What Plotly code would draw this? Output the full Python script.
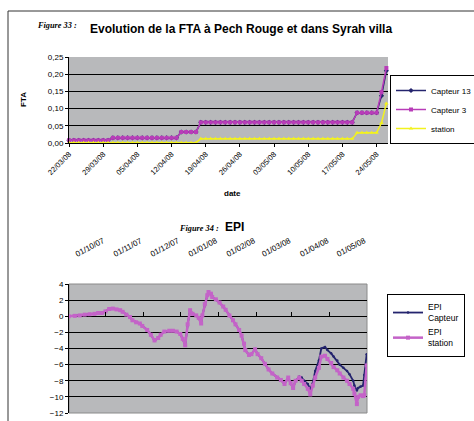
import pandas as pd
import plotly.graph_objects as go

# --- Figure 33 : FTA (daily values, 22/03/08 -> 26/05/08) ---
fta_dates = pd.date_range("2008-03-22", "2008-05-26", freq="D")

capteur_13 = [
    0.008, 0.008, 0.008, 0.008, 0.008, 0.008, 0.008, 0.008, 0.008,
    0.015, 0.015, 0.015, 0.015, 0.015, 0.015, 0.015, 0.015, 0.015, 0.015, 0.015, 0.015, 0.015, 0.015,
    0.032, 0.032, 0.032, 0.032,
    0.06, 0.06, 0.06, 0.06, 0.06, 0.06, 0.06, 0.06, 0.06, 0.06, 0.06, 0.06, 0.06, 0.06, 0.06, 0.06,
    0.06, 0.06, 0.06, 0.06, 0.06, 0.06, 0.06, 0.06, 0.06, 0.06, 0.06, 0.06, 0.06, 0.06, 0.06, 0.06,
    0.088, 0.088, 0.088, 0.088, 0.088,
    0.137, 0.21,
]
capteur_3 = [
    0.008, 0.008, 0.008, 0.008, 0.008, 0.008, 0.008, 0.008, 0.008,
    0.015, 0.015, 0.015, 0.015, 0.015, 0.015, 0.015, 0.015, 0.015, 0.015, 0.015, 0.015, 0.015, 0.015,
    0.032, 0.032, 0.032, 0.032,
    0.06, 0.06, 0.06, 0.06, 0.06, 0.06, 0.06, 0.06, 0.06, 0.06, 0.06, 0.06, 0.06, 0.06, 0.06, 0.06,
    0.06, 0.06, 0.06, 0.06, 0.06, 0.06, 0.06, 0.06, 0.06, 0.06, 0.06, 0.06, 0.06, 0.06, 0.06, 0.06,
    0.088, 0.088, 0.088, 0.088, 0.088,
    0.148, 0.218,
]
station = [
    0.001, 0.001, 0.001, 0.001, 0.001, 0.001, 0.001, 0.001, 0.001, 0.001, 0.001, 0.001, 0.001, 0.001,
    0.001, 0.001, 0.001, 0.001, 0.001, 0.001, 0.001, 0.001, 0.001, 0.001, 0.001, 0.001, 0.001,
    0.012, 0.012, 0.012, 0.012, 0.012, 0.012, 0.012, 0.012, 0.012, 0.012, 0.012, 0.012, 0.012, 0.012,
    0.012, 0.012, 0.012, 0.012, 0.012, 0.012, 0.012, 0.012, 0.012, 0.012, 0.012, 0.012, 0.012, 0.012,
    0.012, 0.012, 0.012, 0.012,
    0.03, 0.03, 0.03, 0.03, 0.03,
    0.058, 0.115,
]

# --- Figure 34 : EPI ---
epi_dates = [
    "2007-09-01", "2007-09-06", "2007-09-10", "2007-09-14", "2007-09-18", "2007-09-22",
    "2007-09-25", "2007-09-28", "2007-10-01", "2007-10-04", "2007-10-07", "2007-10-10",
    "2007-10-13", "2007-10-15", "2007-10-18", "2007-10-21", "2007-10-23", "2007-10-26",
    "2007-10-29", "2007-10-31", "2007-11-04", "2007-11-07", "2007-11-10", "2007-11-13",
    "2007-11-15", "2007-11-18", "2007-11-22", "2007-11-25", "2007-11-28", "2007-12-01",
    "2007-12-03", "2007-12-05", "2007-12-07", "2007-12-09", "2007-12-11", "2007-12-14",
    "2007-12-16", "2007-12-18", "2007-12-19", "2007-12-21", "2007-12-23", "2007-12-24",
    "2007-12-26", "2007-12-27", "2007-12-30", "2008-01-02", "2008-01-05", "2008-01-07",
    "2008-01-10", "2008-01-13", "2008-01-15", "2008-01-18", "2008-01-20", "2008-01-22",
    "2008-01-23", "2008-01-26", "2008-01-28", "2008-01-31", "2008-02-02", "2008-02-05",
    "2008-02-08", "2008-02-11", "2008-02-14", "2008-02-18", "2008-02-21", "2008-02-24",
    "2008-02-27", "2008-02-29", "2008-03-02", "2008-03-04", "2008-03-07", "2008-03-09",
    "2008-03-11", "2008-03-14", "2008-03-16", "2008-03-18", "2008-03-20", "2008-03-23",
    "2008-03-25", "2008-03-28", "2008-03-30", "2008-04-02", "2008-04-04", "2008-04-07",
    "2008-04-09", "2008-04-12", "2008-04-15", "2008-04-17", "2008-04-20", "2008-04-21",
    "2008-04-23", "2008-04-24", "2008-04-26", "2008-04-28", "2008-04-29", "2008-05-01",
]
epi_station = [
    0.0, 0.05, 0.1, 0.2, 0.25, 0.3,
    0.4, 0.4, 0.6, 0.9, 0.95, 0.85,
    0.75, 0.55, 0.2, -0.1, -0.5, -0.75,
    -0.9, -1.2, -1.7, -2.3, -3.0, -2.7,
    -2.3, -1.9, -1.8, -1.8, -1.9, -2.2,
    -2.8, -3.6, -1.0, 0.75, 0.3, 0.1,
    -0.2, -0.9, 0.1, 1.5, 2.6, 3.0,
    2.8, 2.4, 2.1, 1.7, 1.2, 0.8,
    0.1, -0.5, -1.0, -1.7, -2.4, -3.4,
    -4.2, -4.8, -4.7, -4.1, -4.7, -5.2,
    -5.9, -6.6, -7.1, -7.6, -7.9, -8.4,
    -7.6, -8.3, -8.9, -8.0, -7.6, -8.0,
    -8.4, -9.0, -9.7, -8.6, -7.6, -6.4,
    -5.0, -4.9, -5.3, -5.8, -6.3, -6.7,
    -7.1, -7.6, -8.0, -8.4, -9.0, -9.6,
    -10.9, -10.0, -9.8, -9.9, -9.8, -6.1,
]
epi_capteur = [
    0.0, 0.05, 0.1, 0.2, 0.25, 0.3,
    0.4, 0.4, 0.6, 0.9, 0.95, 0.85,
    0.75, 0.55, 0.2, -0.1, -0.5, -0.75,
    -0.9, -1.2, -1.7, -2.3, -3.0, -2.7,
    -2.3, -1.9, -1.8, -1.8, -1.9, -2.2,
    -2.8, -3.6, -1.0, 0.75, 0.3, 0.1,
    -0.2, -0.9, 0.1, 1.5, 2.6, 3.0,
    2.8, 2.4, 2.1, 1.7, 1.2, 0.8,
    0.1, -0.5, -1.0, -1.7, -2.4, -3.4,
    -4.2, -4.8, -4.7, -4.1, -4.7, -5.2,
    -5.9, -6.6, -7.1, -7.6, -7.9, -8.4,
    -7.6, -8.3, -8.9, -8.0, -7.5, -7.6,
    -8.0, -8.4, -9.0, -8.3, -6.8, -5.5,
    -4.0, -3.8, -4.2, -4.6, -5.0, -5.5,
    -6.0, -6.4, -6.8, -7.2, -8.0, -8.6,
    -9.2, -8.9, -8.7, -8.6, -7.3, -4.7,
]

W, H = 474, 421
FONT = "Liberation Sans, Arial, sans-serif"
SERIF = "Liberation Serif, Times New Roman, serif"
PLOT_BG = "#b8b9bb"
NAVY = "#24246e"
MAGENTA = "#b83cb8"
PINK = "#c463c8"
YELLOW = "#f2f21e"

def px_x(p):
    return p / W

def px_y(p):
    return 1 - p / H

fig = go.Figure()

fig.add_trace(go.Scatter(x=fta_dates, y=capteur_13, name="Capteur 13", mode="lines+markers",
                         line=dict(color=NAVY, width=1.5), marker=dict(symbol="diamond", size=4),
                         cliponaxis=False, xaxis="x", yaxis="y", legend="legend"))
fig.add_trace(go.Scatter(x=fta_dates, y=capteur_3, name="Capteur 3", mode="lines+markers",
                         line=dict(color=MAGENTA, width=1.5), marker=dict(symbol="square", size=4),
                         cliponaxis=False, xaxis="x", yaxis="y", legend="legend"))
fig.add_trace(go.Scatter(x=fta_dates, y=station, name="station", mode="lines+markers",
                         line=dict(color=YELLOW, width=1.5), marker=dict(symbol="triangle-up", size=4),
                         cliponaxis=False, xaxis="x", yaxis="y", legend="legend"))

fig.add_trace(go.Scatter(x=epi_dates, y=epi_capteur, name="EPI<br>Capteur", mode="lines+markers",
                         line=dict(color=NAVY, width=1.8), marker=dict(symbol="circle", size=2.5),
                         xaxis="x2", yaxis="y2", legend="legend2"))
fig.add_trace(go.Scatter(x=epi_dates, y=epi_station, name="EPI<br>station", mode="lines+markers",
                         line=dict(color=PINK, width=2.5), marker=dict(symbol="square", size=4),
                         xaxis="x2", yaxis="y2", legend="legend2"))
# invisible carrier so the top label axis of the EPI chart gets drawn
fig.add_trace(go.Scatter(x=epi_dates[:1], y=epi_station[:1], mode="markers", opacity=0,
                         showlegend=False, hoverinfo="skip", xaxis="x3", yaxis="y2"))

top_dom_y = [px_y(143), px_y(57)]
bot_dom_y = [px_y(413), px_y(284)]
zero_pos = bot_dom_y[0] + 12 / 16 * (bot_dom_y[1] - bot_dom_y[0])

fig.update_layout(
    template="none",
    width=W, height=H,
    margin=dict(l=0, r=0, t=0, b=0, autoexpand=False),
    paper_bgcolor="white",
    plot_bgcolor=PLOT_BG,
    separators=", ",
    font=dict(family=FONT, size=8, color="black"),
    xaxis=dict(domain=[px_x(69), px_x(388)], anchor="y", type="date", automargin=False,
               range=["2008-03-22", "2008-05-26 08:00"],
               tick0="2008-03-22", dtick=7 * 86400000, tickformat="%d/%m/%y",
               tickangle=-45, ticks="outside", ticklen=3, tickcolor="black",
               showline=True, linecolor="black", linewidth=1, showgrid=False, zeroline=False,
               tickfont=dict(size=7.5)),
    yaxis=dict(domain=top_dom_y, anchor="x", range=[0, 0.25], dtick=0.05, tickformat=".2f",
               automargin=False,
               showgrid=True, gridcolor="black", gridwidth=1, zeroline=False,
               showline=True, linecolor="black", ticks="outside", ticklen=3, tickcolor="black",
               tickfont=dict(size=8)),
    xaxis2=dict(domain=[px_x(69), px_x(367)], anchor="free", position=zero_pos, type="date",
                automargin=False,
                range=["2007-09-01 06:00", "2008-05-01 06:00"], tick0="2007-10-01", dtick="M1",
                ticks="inside", ticklen=4, tickcolor="black", showticklabels=False,
                showgrid=False, showline=False, zeroline=False),
    xaxis3=dict(overlaying="x2", matches="x2", anchor="y2", side="top", type="date",
                automargin=False,
                tick0="2007-10-01", dtick="M1", tickformat="%d/%m/%y", tickangle=-28,
                ticklabelshift=-30, ticklabelstandoff=24,
                ticks="", showgrid=False, showline=False, zeroline=False,
                tickfont=dict(size=8)),
    yaxis2=dict(domain=bot_dom_y, anchor="x2", range=[-12, 4], dtick=2, automargin=False,
                showgrid=True, gridcolor="black", gridwidth=1, zeroline=False,
                showline=True, linecolor="black", ticks="outside", ticklen=3, tickcolor="black",
                tickfont=dict(size=8)),
    legend=dict(x=px_x(390), y=px_y(75), xanchor="left", yanchor="top",
                bgcolor="white", bordercolor="black", borderwidth=1,
                font=dict(size=8), tracegroupgap=0, itemwidth=30),
    legend2=dict(x=px_x(387), y=px_y(294), xanchor="left", yanchor="top",
                 bgcolor="white", bordercolor="black", borderwidth=1,
                 font=dict(size=8.5), tracegroupgap=0, itemwidth=30),
    shapes=[
        dict(type="line", xref="paper", yref="paper", x0=px_x(8), x1=1, y0=px_y(11), y1=px_y(11),
             line=dict(color="#333333", width=1)),
        dict(type="line", xref="paper", yref="paper", x0=px_x(8), x1=px_x(8), y0=0, y1=px_y(11),
             line=dict(color="#333333", width=1)),
        dict(type="rect", xref="x2 domain", yref="y2 domain", x0=0, x1=1, y0=0, y1=1,
             line=dict(color="#8a8a8a", width=1), layer="below"),
    ],
    annotations=[
        dict(text="<b><i>Figure 33 :</i></b>", x=px_x(35), y=px_y(26), xref="paper", yref="paper",
             xanchor="left", yanchor="middle", showarrow=False, font=dict(family=SERIF, size=8.3)),
        dict(text="<b>Evolution de la FTA à Pech Rouge et dans Syrah villa</b>", x=px_x(88), y=px_y(29),
             xref="paper", yref="paper", xanchor="left", yanchor="middle", showarrow=False,
             font=dict(size=12)),
        dict(text="<b>FTA</b>", x=px_x(23), y=px_y(100), xref="paper", yref="paper", textangle=-90,
             xanchor="center", yanchor="middle", showarrow=False, font=dict(size=8)),
        dict(text="<b>date</b>", x=px_x(232), y=px_y(193), xref="paper", yref="paper",
             xanchor="center", yanchor="middle", showarrow=False, font=dict(size=8)),
        dict(text="<b><i>Figure 34 :</i></b>", x=px_x(177), y=px_y(228), xref="paper", yref="paper",
             xanchor="left", yanchor="middle", showarrow=False, font=dict(family=SERIF, size=8.3)),
        dict(text="<b>EPI</b>", x=px_x(223), y=px_y(227), xref="paper", yref="paper",
             xanchor="left", yanchor="middle", showarrow=False, font=dict(size=12)),
    ],
)

fig.write_html("out.html", config={"displayModeBar": False},
               post_script="document.body.style.margin='0';document.body.style.overflow='hidden';")
